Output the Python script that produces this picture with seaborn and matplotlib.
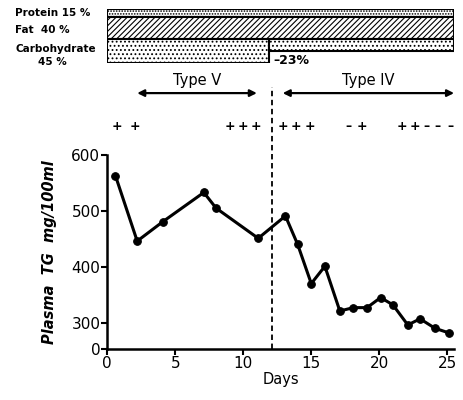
import numpy as np
import pandas as pd
import matplotlib
matplotlib.use("Agg")
import matplotlib.pyplot as plt
import seaborn as sns

# plasma triglyceride readings (day, mg/100ml)
days = [0.6, 2.2, 4.1, 7.1, 8.0, 11.1, 13.1, 14.0, 15.0, 16.0, 17.1, 18.1, 19.1, 20.1, 21.0, 22.1, 23.0, 24.1, 25.1]
tg = [563, 446, 481, 533, 505, 451, 491, 440, 370, 401, 321, 327, 327, 345, 332, 296, 307, 290, 282]

# diet composition (% of calories)
diet_names = ["Protein", "Fat", "Carbohydrate"]
diet_pct = [15, 40, 45]
carb_cut = 23
switch_day = 12.1

# lipoprotein pattern signs along the top
sign_days = [0.7, 2.0, 9.0, 10.0, 10.9, 12.9, 13.9, 14.9, 17.7, 18.7, 21.7, 22.6, 23.5, 24.3, 25.2]
signs = ["+", "+", "+", "+", "+", "+", "+", "+", "–", "+", "+", "+", "–", "–", "–"]

type_labels = ["Type V", "Type IV"]
type_spans = [(2.2, 11.0), (12.9, 25.5)]

yticks = [300, 400, 500, 600]
y_floor = 253  # broken axis, drawn as "0"

sns.set_style("ticks")
plt.rcParams["font.family"] = ["DejaVu Sans"]
plt.rcParams["hatch.linewidth"] = 0.8
for k in ["text.color", "axes.labelcolor", "xtick.color", "ytick.color", "axes.edgecolor"]:
    plt.rcParams[k] = "black"

fig = plt.figure(figsize=(4.63, 4.0), dpi=100)
ax = fig.add_axes([0.2317, 0.1275, 0.749, 0.485])

df = pd.DataFrame({"day": days, "tg": tg})
sns.lineplot(data=df, x="day", y="tg", ax=ax, color="black", lw=2.2,
             marker="o", markersize=5.5, markeredgecolor="black")

ax.set_xlim(0, 25.5)
ax.set_ylim(y_floor, 600)
ax.set_xticks([0, 5, 10, 15, 20, 25])
ax.set_yticks([y_floor] + yticks)
ax.set_yticklabels(["0"] + [str(v) for v in yticks])
ax.tick_params(labelsize=11, width=1.5, length=4, pad=1)
for s in ["left", "bottom"]:
    ax.spines[s].set_linewidth(1.8)
sns.despine(ax=ax)
ax.set_xlabel("Days", fontsize=10.5, labelpad=1)
ax.set_ylabel("Plasma  TG  mg/100ml", fontsize=10.5, fontstyle="italic",
              fontweight="bold", labelpad=10)

# diet switch
top_val = 600 + (155 - 87) / 0.56
ax.axvline(switch_day, ymin=0, ymax=(top_val - y_floor) / (600 - y_floor),
           color="black", ls=(0, (3, 2)), lw=1.3, clip_on=False)

# type arrows
arrow_y = 600 + (155 - 93) / 0.56
label_y = 600 + (155 - 80) / 0.56
for lab, (a, b) in zip(type_labels, type_spans):
    ax.annotate("", xy=(a, arrow_y), xytext=(b, arrow_y), xycoords="data",
                arrowprops=dict(arrowstyle="<|-|>", color="black", lw=1.6,
                                mutation_scale=10, shrinkA=0, shrinkB=0),
                annotation_clip=False)
    ax.text((a + b) / 2, label_y, lab, ha="center", va="center", fontsize=10.5,
            clip_on=False)

sign_y = 600 + (155 - 126) / 0.56
for d, s in zip(sign_days, signs):
    ax.text(d, sign_y, s, ha="center", va="center", fontsize=9, fontweight="bold",
            clip_on=False)

# diet bars
axd = fig.add_axes([0.2317, 1 - 63 / 400, 0.749, 54 / 400])
axd.set_xlim(0, 25.5)
axd.set_ylim(0, 100)
axd.axis("off")
protein, fat, carb = diet_pct
end = 25.5
axd.barh(carb + fat + protein / 2, end, height=protein, left=0, color="white",
         edgecolor="black", lw=1.5, hatch="......", align="center")
axd.barh(carb + fat / 2, end, height=fat, left=0, color="white",
         edgecolor="black", lw=1.5, hatch="//////", align="center")
axd.barh(carb / 2, switch_day - 0.2, height=carb, left=0, color="white",
         edgecolor="black", lw=1.5, hatch="....", align="center")
new_carb = carb - carb_cut
axd.barh(carb - new_carb / 2, end - (switch_day - 0.2), height=new_carb,
         left=switch_day - 0.2, color="white", edgecolor="black", lw=1.5,
         hatch="....", align="center")
axd.text(switch_day + 0.1, 5, f"–{carb_cut}%", ha="left", va="center", fontsize=9,
         fontweight="bold")

fig.text(15 / 463, 1 - 13 / 400, f"{diet_names[0]} {protein} %", fontsize=7.5,
         fontweight="bold", va="center")
fig.text(15 / 463, 1 - 30 / 400, f"{diet_names[1]}  {fat} %", fontsize=7.5,
         fontweight="bold", va="center")
fig.text(16 / 463, 1 - 49 / 400, diet_names[2], fontsize=7.5,
         fontweight="bold", va="center")
fig.text(52 / 463, 1 - 62 / 400, f"{carb} %", fontsize=7.5,
         fontweight="bold", va="center", ha="center")

fig.savefig("out.png", dpi=100)
